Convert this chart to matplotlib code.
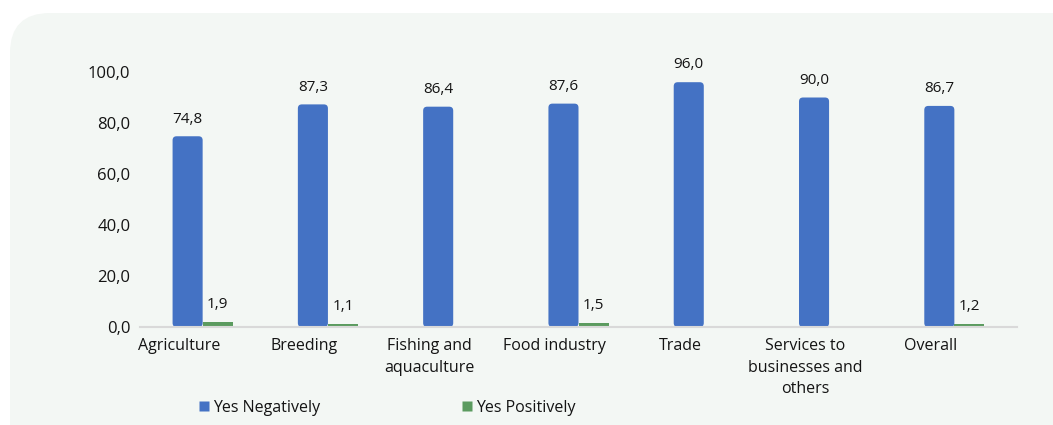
import numpy as np
import matplotlib.pyplot as plt
from matplotlib.patches import FancyBboxPatch
from matplotlib.lines import Line2D
from matplotlib.ticker import FuncFormatter
from matplotlib.transforms import IdentityTransform

categories = ["Agriculture", "Breeding", "Fishing and\naquaculture", "Food industry",
              "Trade", "Services to\nbusinesses and\nothers", "Overall"]
yes_negatively = [74.8, 87.3, 86.4, 87.6, 96.0, 90.0, 86.7]
yes_positively = [1.9, 1.1, 0.0, 1.5, 0.0, 0.0, 1.2]

BLUE = "#4472C4"
GREEN = "#5B9B5F"
PANEL = "#F3F7F4"
TEXT = "#141414"

plt.rcParams["font.family"] = ["Open Sans", "DejaVu Sans"]

W, H, DPI = 1053, 425, 100
fig = plt.figure(figsize=(W / DPI, H / DPI), dpi=DPI)
fig.patch.set_facecolor("white")

# rounded background card, partly running off the right/bottom edge
card = FancyBboxPatch((10, -60), 1100, H - 13 + 60,
                      boxstyle="round,pad=0,rounding_size=40",
                      transform=IdentityTransform(), facecolor=PANEL,
                      edgecolor="none", zorder=-5)
fig.patches.append(card)

ax_l, ax_r, ax_b, ax_t = 140, 1017, 98, 353
ax = fig.add_axes([ax_l / W, ax_b / H, (ax_r - ax_l) / W, (ax_t - ax_b) / H])
ax.set_facecolor("none")

x = np.arange(len(categories))
bw = 0.24
xlim = (-0.5, len(categories) - 0.5)
ylim = (0, 100)
ax.set_xlim(*xlim)
ax.set_ylim(*ylim)

neg = ax.bar(x - bw / 2, yes_negatively, bw, color=BLUE, zorder=3)
pos = ax.bar(x + bw / 2, yes_positively, bw, color=GREEN, zorder=3)

# swap the blue rectangles for rounded ones of the same geometry
px_x = (xlim[1] - xlim[0]) / (ax_r - ax_l)
px_y = (ylim[1] - ylim[0]) / (ax_t - ax_b)
aspect = px_y / px_x
for r in neg:
    rb = FancyBboxPatch(r.get_xy(), r.get_width(), r.get_height(),
                        boxstyle=f"round,pad=0,rounding_size={4 * px_x}",
                        mutation_aspect=aspect, facecolor=BLUE,
                        edgecolor="none", zorder=3)
    ax.add_patch(rb)
    r.remove()

fmt = lambda v: f"{v:.1f}".replace(".", ",")
for xi, v in zip(x, yes_negatively):
    ax.annotate(fmt(v), (xi - bw / 2, v), xytext=(0, 7), textcoords="offset points",
                ha="center", va="bottom", fontsize=11, color=TEXT)
for xi, v in zip(x, yes_positively):
    if v > 0:
        ax.annotate(fmt(v), (xi + bw / 2, v), xytext=(0, 7), textcoords="offset points",
                    ha="center", va="bottom", fontsize=11, color=TEXT)

ax.set_yticks(np.arange(0, 101, 20))
ax.yaxis.set_major_formatter(FuncFormatter(lambda v, p: fmt(v)))
ax.set_xticks(x - 0.19)
ax.set_xticklabels(categories, fontsize=11.5, color=TEXT, linespacing=1.45)
ax.tick_params(axis="x", length=0, pad=8)
ax.tick_params(axis="y", length=0, pad=7, labelsize=12, labelcolor=TEXT)

for s in ["top", "right", "left"]:
    ax.spines[s].set_visible(False)
ax.spines["bottom"].set_color("#D9D9D9")
ax.spines["bottom"].set_linewidth(1.5)
ax.spines["bottom"].set_zorder(4)

handles = [Line2D([], [], marker="s", linestyle="none", markersize=6.5,
                  markerfacecolor=BLUE, markeredgecolor="none"),
           Line2D([], [], marker="s", linestyle="none", markersize=6.5,
                  markerfacecolor=GREEN, markeredgecolor="none")]
fig.legend(handles, ["Yes Negatively", "Yes Positively"], ncol=2,
           loc="center left", bbox_to_anchor=(185 / W, 17 / H),
           frameon=False, fontsize=11.5, handlelength=0.6,
           handletextpad=0.25, columnspacing=8.9, labelcolor=TEXT)

fig.savefig("out.png", dpi=DPI, facecolor=fig.get_facecolor())
